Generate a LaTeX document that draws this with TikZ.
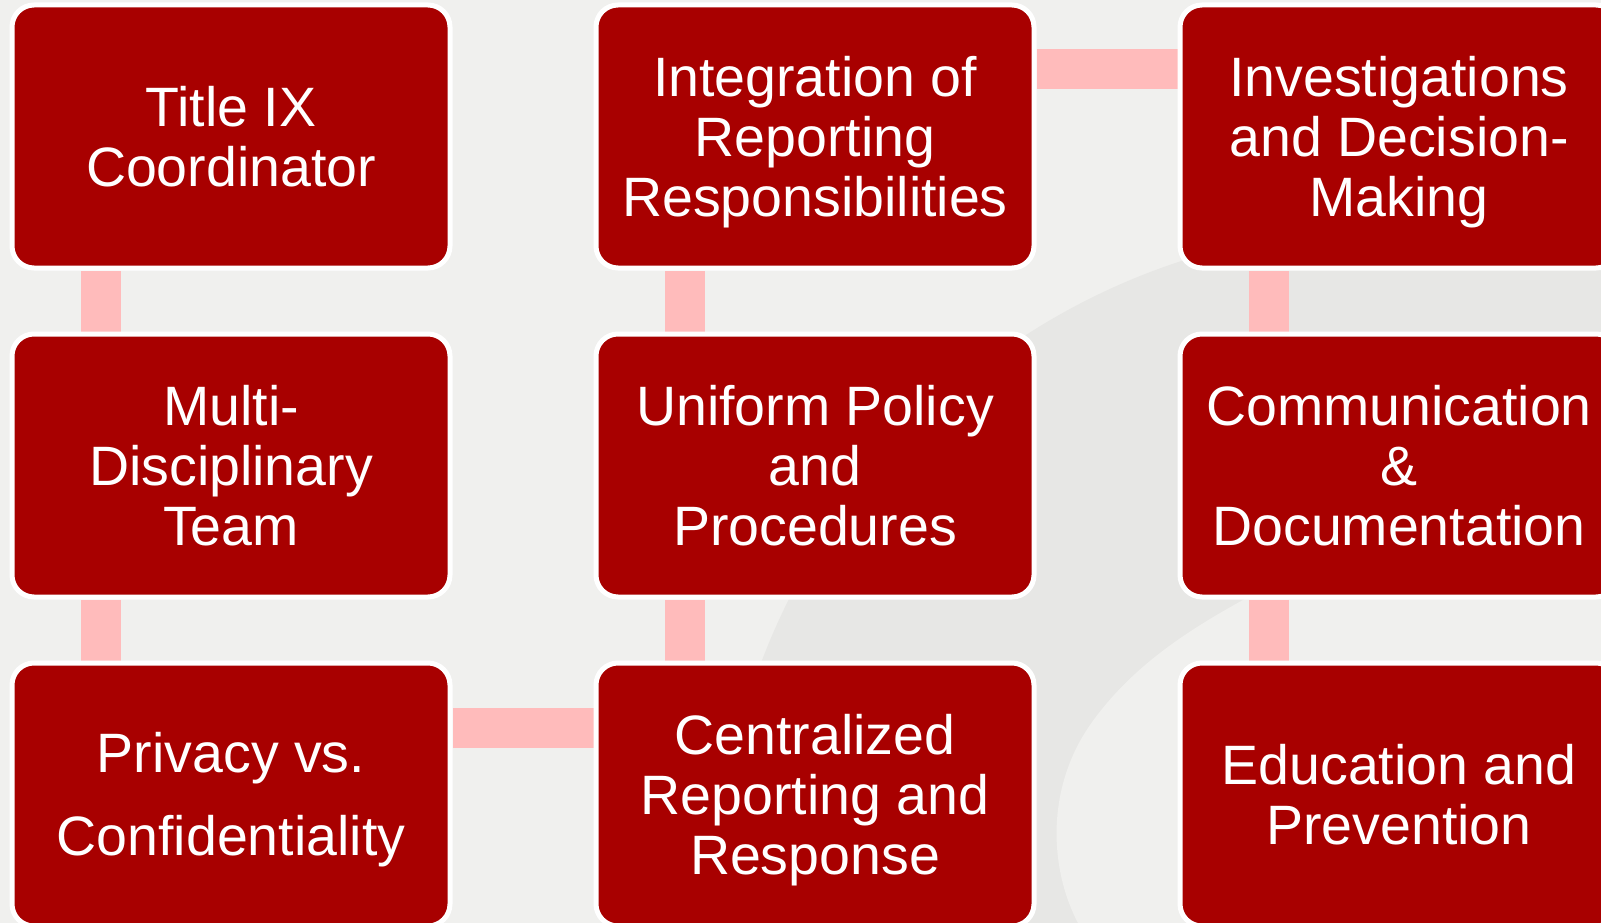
\documentclass[tikz,border=0pt]{standalone}
\usepackage{fontspec}
\setmainfont{Liberation Sans}
\usepackage{tikz}
\usetikzlibrary{backgrounds}
\definecolor{boxred}{RGB}{168,0,0}
\definecolor{linkpink}{RGB}{255,187,187}
\definecolor{paper}{RGB}{240,240,238}
\definecolor{swoosh}{RGB}{231,231,229}
\tikzstyle{stage}=[rectangle, rounded corners=22pt, draw=white, line width=5pt, fill=boxred, text=white, minimum width=438pt, minimum height=263pt, inner sep=0pt, align=center, font=\fontsize{55.5}{60}\selectfont]
\tikzstyle{link}=[draw=linkpink, line width=40pt]
\newcommand{\topstrut}{\rule{0pt}{51pt}}
\newcommand{\botstrut}{\rule[-12pt]{0pt}{12pt}}

\begin{document}
\begin{tikzpicture}[x=1pt, y=-1pt]
			\useasboundingbox (0,0) rectangle (1601,923);
			\begin{scope}[on background layer]
				\fill[paper] (0,0) rectangle (1601,923);
				\fill[swoosh] (1390,900) circle (672);
				\fill[paper] (1078,923) .. controls (1050,870) and (1045,790) .. (1090,725)
					.. controls (1130,668) and (1185,632) .. (1243,600) -- (1601,410) -- (1601,923) -- cycle;
			\end{scope}
			\clip (0,0) rectangle (1601,923);
			% first column
			\draw (231,136.5) node[stage] (tix) {\topstrut Title IX\\Coordinator\botstrut};
			\draw (231,465.5) node[stage] (mdt) {\topstrut Multi-\\Disciplinary\\Team\botstrut};
			\draw (231,794.5) node[stage] (pvc) {\topstrut Privacy vs.\\[23pt]Confidentiality\botstrut};
			% second column
			\draw (815,136.5) node[stage] (irr) {\topstrut Integration of\\Reporting\\Responsibilities\botstrut};
			\draw (815,465.5) node[stage] (upp) {\topstrut Uniform Policy\\and\\Procedures\botstrut};
			\draw (815,794.5) node[stage] (crr) {\topstrut Centralized\\Reporting and\\Response\botstrut};
			% third column
			\draw (1399,136.5) node[stage] (idm) {\topstrut Investigations\\and Decision-\\Making\botstrut};
			\draw (1399,465.5) node[stage] (cd) {\topstrut Communication\\\&\\Documentation\botstrut};
			\draw (1399,794.5) node[stage] (ep) {\topstrut Education and\\Prevention\botstrut};
			\begin{scope}[on background layer]
				\draw[link] ([xshift=91pt]tix.south west) -- ([xshift=91pt]mdt.north west);
				\draw[link] ([xshift=91pt]mdt.south west) -- ([xshift=91pt]pvc.north west);
				\draw[link] ([yshift=-67pt]pvc.north east) -- ([yshift=-67pt]crr.north west);
				\draw[link] ([xshift=91pt]crr.north west) -- ([xshift=91pt]upp.south west);
				\draw[link] ([xshift=91pt]upp.north west) -- ([xshift=91pt]irr.south west);
				\draw[link] ([yshift=-67pt]irr.north east) -- ([yshift=-67pt]idm.north west);
				\draw[link] ([xshift=91pt]idm.south west) -- ([xshift=91pt]cd.north west);
				\draw[link] ([xshift=91pt]cd.south west) -- ([xshift=91pt]ep.north west);
			\end{scope}
		\end{tikzpicture}
\end{document}
